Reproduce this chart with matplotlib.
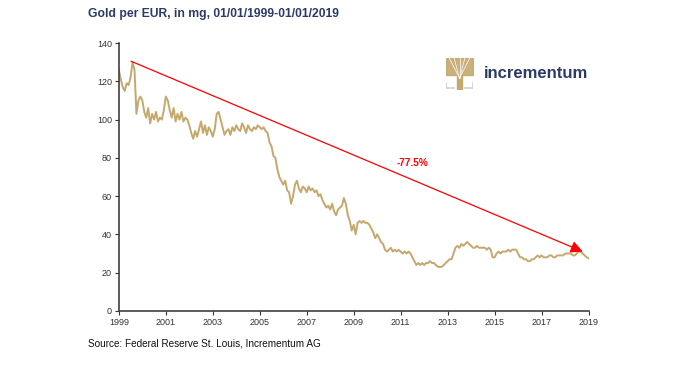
import numpy as np
import matplotlib.pyplot as plt

plt.rcParams['font.family'] = ['Liberation Sans', 'DejaVu Sans']

# =========================
# DATOS (mg de oro por EUR, mensual)
# =========================

v1999 = [126, 121, 117, 115, 119, 118, 122, 130, 126, 103, 110, 112]
v2000 = [110, 104, 101, 106, 98, 103, 100, 104, 99, 101, 100, 105]
v2001 = [112, 110, 105, 101, 106, 99, 103, 100, 104, 99, 101, 100]
v2002 = [97, 93, 90, 94, 91, 95, 99, 93, 97, 92, 96, 94]
v2003 = [91, 95, 103, 104, 100, 96, 92, 94, 95, 92, 96, 94]
v2004 = [97, 95, 94, 98, 96, 93, 97, 95, 94, 96, 95, 97]
v2005 = [96, 95, 96, 94, 93, 88, 86, 81, 80, 74, 70, 68]
v2006 = [66, 68, 63, 62, 56, 60, 66, 68, 64, 62, 65, 64]
v2007 = [62, 65, 63, 64, 62, 63, 60, 61, 58, 56, 54, 55]
v2008 = [53, 56, 52, 50, 53, 54, 55, 59, 56, 50, 47, 42]
v2009 = [45, 40, 46, 47, 46, 47, 46, 46, 45, 43, 41, 38]
v2010 = [40, 38, 36, 35, 32, 31, 32, 33, 31, 32, 31, 32]
v2011 = [31, 30, 31, 30, 31, 30, 28, 26, 24, 25, 24, 25]
v2012 = [24, 25, 25, 26, 25, 25, 24, 23, 23, 23, 24, 25]
v2013 = [26, 27, 27, 30, 33, 34, 33, 35, 34, 35, 36, 35]
v2014 = [34, 33, 33, 34, 33, 33, 33, 33, 32, 33, 32, 28]
v2015 = [28, 30, 31, 30, 31, 31, 31, 32, 31, 32, 32, 32]
v2016 = [30, 28, 28, 27, 27, 26, 26, 27, 27, 28, 29, 28]
v2017 = [29, 28, 28, 28, 29, 29, 28, 28, 29, 29, 29, 29]
v2018 = [30, 30, 30, 30, 29, 29, 30, 31, 31, 30, 29, 28]
v2019 = [27.5]

valores = np.array(v1999 + v2000 + v2001 + v2002 + v2003 + v2004 + v2005 +
                   v2006 + v2007 + v2008 + v2009 + v2010 + v2011 + v2012 +
                   v2013 + v2014 + v2015 + v2016 + v2017 + v2018 + v2019)
fechas = 1999 + np.arange(len(valores)) / 12

anios = list(range(1999, 2020, 2))
y_ticks = [0, 20, 40, 60, 80, 100, 120, 140]

flecha_ini = (1999.52, 130.5)
flecha_fin = (2018.75, 31.0)
texto_cambio = "-77.5%"

oro = '#C5A86D'
azul = '#2B3A67'

# =========================
# GRÁFICO
# =========================

fig = plt.figure(figsize=(6.99, 3.71), dpi=100)
ax = fig.add_axes([0.170, 0.162, 0.672, 0.722])

ax.plot(fechas, valores, color=oro, linewidth=1.4)

ax.annotate('', xy=flecha_fin, xytext=flecha_ini,
            arrowprops=dict(arrowstyle='-|>', color='#FF0000', lw=0.9,
                            mutation_scale=18, shrinkA=0, shrinkB=0))
ax.text(2011.5, 77.5, texto_cambio, color='#FF0000', fontsize=7.2,
        fontweight='bold', ha='center', va='center')

ax.set_xlim(1999, 2019)
ax.set_ylim(0, 140)
ax.set_xticks(anios)
ax.set_yticks(y_ticks)
ax.tick_params(labelsize=6.5, length=3, width=0.8, colors='#333333', pad=2)

for lado in ['top', 'right']:
    ax.spines[lado].set_visible(False)
for lado in ['left', 'bottom']:
    ax.spines[lado].set_color('#404040')
    ax.spines[lado].set_linewidth(1.2)

# títulos y fuente
fig.text(88 / 699, 1 - 14 / 371, "Gold per EUR, in mg, 01/01/1999-01/01/2019",
         fontsize=8.7, fontweight='bold', color=azul, ha='left', va='center')
fig.text(88 / 699, 1 - 343 / 371, "Source: Federal Reserve St. Louis, Incrementum AG",
         fontsize=7.2, color='#111111', ha='left', va='center')

# logo incrementum (aproximado)
logo = fig.add_axes([446 / 699, 1 - 89 / 371, 27 / 699, 31 / 371])
logo.set_xlim(0, 1)
logo.set_ylim(0, 1)
logo.axis('off')
logo.fill_between([0.0, 1.0], 0.45, 1.0, color=oro, alpha=0.9)
for xr in [0.12, 0.3, 0.5, 0.7, 0.88]:
    logo.plot([0.5, xr], [0.35, 1.0], color='white', lw=0.5)
logo.fill_between([0.4, 0.6], 0.0, 0.5, color=oro)
logo.plot([0.0, 0.0, 0.3], [0.2, 0.02, 0.02], color='#D0D0D0', lw=1.2)
logo.plot([1.0, 1.0, 0.7], [0.2, 0.02, 0.02], color='#D0D0D0', lw=1.2)

fig.text(484 / 699, 1 - 73 / 371, "incrementum", fontsize=12, color=azul,
         fontweight='bold', ha='left', va='center')

fig.savefig('out.png', dpi=100, facecolor='white')
